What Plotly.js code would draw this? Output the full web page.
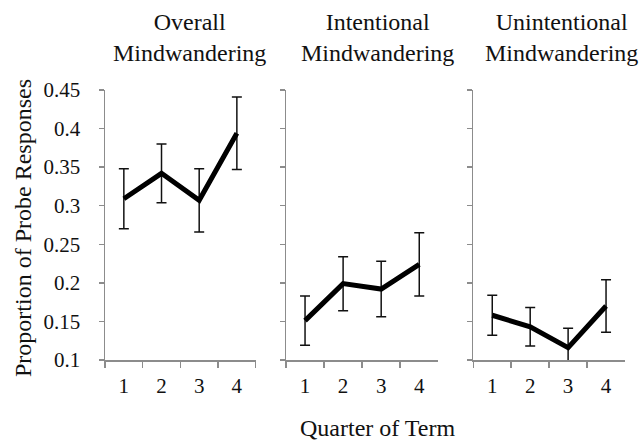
<!DOCTYPE html>
<html>
<head>
<meta charset="utf-8">
<script src="https://cdn.plot.ly/plotly-3.0.1.min.js"></script>
<style>
  html, body { margin: 0; padding: 0; background: #fff; }
  #chart { width: 643px; height: 441px; }
</style>
</head>
<body>
<div id="chart"></div>
<script>
// Quarter of term (x categories)
const quarters = ['1', '2', '3', '4'];

// Proportion of probe responses, with error bar half-widths
const overallMean = [0.309, 0.342, 0.307, 0.394];
const overallErr = [0.039, 0.038, 0.041, 0.047];

const intentionalMean = [0.151, 0.199, 0.192, 0.224];
const intentionalErr = [0.032, 0.035, 0.036, 0.041];

const unintentionalMean = [0.158, 0.143, 0.116, 0.170];
const unintentionalErr = [0.026, 0.025, 0.025, 0.034];

const panelTitles = ['Overall<br>Mindwandering', 'Intentional<br>Mindwandering', 'Unintentional<br>Mindwandering'];

const yTickVals = [0.1, 0.15, 0.2, 0.25, 0.3, 0.35, 0.4, 0.45];
const yTickText = ['0.1', '0.15', '0.2', '0.25', '0.3', '0.35', '0.4', '0.45'];

const FONT = '"Liberation Serif", "Times New Roman", serif';
const INK = '#111111';
const AXIS = '#8c8c8c';

function series(mean, err, xa, ya) {
  return {
    type: 'scatter',
    mode: 'lines',
    x: quarters,
    y: mean,
    xaxis: xa,
    yaxis: ya,
    line: { color: '#000', width: 5 },
    error_y: { type: 'data', array: err, visible: true, color: INK, thickness: 1.5, width: 5 },
    showlegend: false,
    hoverinfo: 'skip'
  };
}

const data = [
  series(overallMean, overallErr, 'x', 'y'),
  series(intentionalMean, intentionalErr, 'x2', 'y2'),
  series(unintentionalMean, unintentionalErr, 'x3', 'y3')
];

function xAxis(domain, anchor) {
  return {
    domain: domain, anchor: anchor,
    type: 'category', range: [-0.5, 3.5],
    tickson: 'boundaries',
    showline: true, linecolor: AXIS, linewidth: 1.5,
    ticks: 'outside', ticklen: 6, tickcolor: AXIS, tickwidth: 1.5,
    showgrid: false, zeroline: false,
    tickfont: { family: FONT, size: 21, color: INK },
    ticklabelstandoff: 6,
    fixedrange: true
  };
}

function yAxis(anchor, labels) {
  return {
    domain: [1 - 360 / 441, 1 - 90 / 441], anchor: anchor,
    range: [0.1, 0.45],
    tickmode: 'array', tickvals: yTickVals, ticktext: yTickText,
    showticklabels: labels,
    showline: true, linecolor: AXIS, linewidth: 1.5,
    ticks: 'outside', ticklen: 5, tickcolor: AXIS, tickwidth: 1.5,
    showgrid: false, zeroline: false,
    tickfont: { family: FONT, size: 21, color: INK },
    ticklabelstandoff: 14,
    fixedrange: true
  };
}

const titleFont = { family: FONT, size: 24, color: INK };
const titleX = [189 / 643, 377 / 643, 561 / 643];

const annotations = panelTitles.map((t, i) => ({
  text: t, xref: 'paper', yref: 'paper',
  x: titleX[i], y: 1 - 37.5 / 441,
  xanchor: 'center', yanchor: 'middle',
  showarrow: false, font: titleFont
}));

annotations.push({
  text: 'Proportion of Probe Responses', xref: 'paper', yref: 'paper',
  x: 23 / 643, y: 1 - 228 / 441, textangle: -90,
  xanchor: 'center', yanchor: 'middle', showarrow: false, font: titleFont
});
annotations.push({
  text: 'Quarter of Term', xref: 'paper', yref: 'paper',
  x: 377 / 643, y: 1 - 428 / 441,
  xanchor: 'center', yanchor: 'middle', showarrow: false, font: titleFont
});

const layout = {
  width: 643, height: 441,
  margin: { l: 0, r: 0, t: 0, b: 0 },
  paper_bgcolor: '#fff', plot_bgcolor: '#fff',
  font: { family: FONT, color: INK },
  xaxis: xAxis([105 / 643, 255.7 / 643], 'y'),
  xaxis2: xAxis([286 / 643, 438.3 / 643], 'y2'),
  xaxis3: xAxis([473.3 / 643, 625 / 643], 'y3'),
  yaxis: yAxis('x', true),
  yaxis2: yAxis('x2', false),
  yaxis3: yAxis('x3', false),
  annotations: annotations
};

Plotly.newPlot('chart', data, layout, { staticPlot: true, displayModeBar: false });
</script>
</body>
</html>
